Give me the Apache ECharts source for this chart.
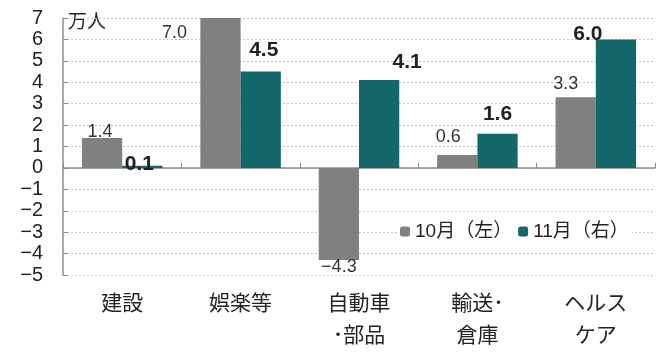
<!DOCTYPE html>
<html><head><meta charset="utf-8">
<script src="https://cdn.jsdelivr.net/npm/echarts@6/dist/echarts.min.js"></script>
<style>html,body{margin:0;padding:0;background:#fff}#c{width:669px;height:356px}</style>
</head><body><div id="c"></div>
<script>
const categories = ['建設', '娯楽等', '自動車\n･部品', '輸送･\n倉庫', 'ヘルス\nケア'];
const octValues = [1.4, 7.0, -4.3, 0.6, 3.3];
const novValues = [0.1, 4.5, 4.1, 1.6, 6.0];
const seriesNames = ['10月（左）', '11月（右）'];
const yTicks = [-5, -4, -3, -2, -1, 0, 1, 2, 3, 4, 5, 6, 7];
const unitLabel = '万人';

const FONT = '"Liberation Sans", "Noto Sans CJK JP", sans-serif';
const CJK = '"Noto Sans CJK JP", sans-serif';
const octAdj = [[-2, 3], [-46, 24], [0, -2], [-9, -9], [-10, -4]];
const novAdj = [[-3, 9], [3, -11], [28, -7], [0, -9], [-28, 5]];

function mk(vals, adj) {
  return vals.map((v, i) => ({
    value: v,
    label: { position: v < 0 ? 'bottom' : 'top', offset: adj[i] }
  }));
}

const chart = echarts.init(document.getElementById('c'));
chart.setOption({
  animation: false,
  textStyle: { fontFamily: FONT },
  grid: { left: 63, right: 14, top: 18, bottom: 81 },
  legend: {
    data: seriesNames,
    left: 397, top: 220,
    itemWidth: 10, itemHeight: 10, itemGap: 6,
    backgroundColor: '#fff',
    padding: [2, 3],
    textStyle: { fontSize: 19, color: '#222', fontFamily: FONT }
  },
  graphic: [{
    type: 'text', left: 68, top: 11,
    style: { text: unitLabel, font: '19px ' + CJK, fill: '#222' }
  }],
  xAxis: [{
    type: 'category', data: categories,
    axisLine: { onZero: true, lineStyle: { color: '#8c8c8c', width: 1.5 } },
    axisTick: { show: true, inside: true, length: 5, lineStyle: { color: '#8c8c8c' } },
    axisLabel: { show: false }
  }, {
    type: 'category', data: categories, position: 'bottom',
    axisLine: { show: false, onZero: false }, axisTick: { show: false },
    axisLabel: { color: '#222', fontSize: 21, lineHeight: 32, margin: 11, fontFamily: CJK, verticalAlign: 'top' }
  }],
  yAxis: {
    type: 'value', min: yTicks[0], max: yTicks[yTicks.length - 1], interval: 1,
    axisLine: { show: true, lineStyle: { color: '#8c8c8c', width: 1.5 } },
    axisTick: { show: true, inside: true, length: 5, lineStyle: { color: '#8c8c8c' } },
    axisLabel: { color: '#222', fontSize: 20, margin: 20, fontFamily: FONT,
      formatter: v => String(v).replace('-', '−') },
    splitLine: { show: true, lineStyle: { color: '#c4c4c4', type: [2, 2], width: 1 } }
  },
  series: [{
    name: seriesNames[0], type: 'bar', xAxisIndex: 0,
    barGap: '0%', barCategoryGap: '32%',
    itemStyle: { color: '#808080' },
    label: { show: true, distance: 0, fontSize: 18, color: '#333', fontFamily: FONT,
      formatter: p => p.value.toFixed(1).replace('-', '−') },
    data: mk(octValues, octAdj)
  }, {
    name: seriesNames[1], type: 'bar', xAxisIndex: 0,
    barGap: '0%', barCategoryGap: '32%',
    itemStyle: { color: '#146869' },
    label: { show: true, distance: 0, fontSize: 21, fontWeight: 'bold', color: '#222', fontFamily: FONT,
      formatter: p => p.value.toFixed(1) },
    data: mk(novValues, novAdj)
  }]
});
</script></body></html>
